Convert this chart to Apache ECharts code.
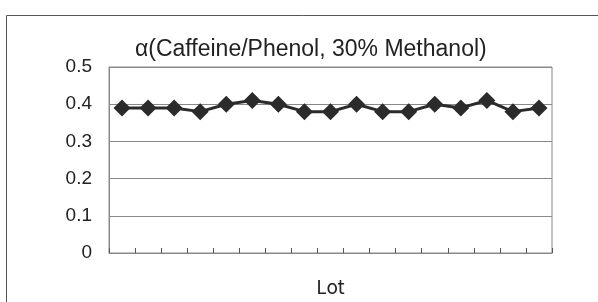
<!DOCTYPE html>
<html>
<head>
<meta charset="utf-8">
<script src="https://cdn.jsdelivr.net/npm/echarts@6/dist/echarts.min.js"></script>
<style>
  html, body { margin: 0; padding: 0; background: #fff; }
  #chart { width: 598px; height: 302px; }
</style>
</head>
<body>
<div id="chart"></div>
<script>
// lots 1..17
var lots = ['1', '2', '3', '4', '5', '6', '7', '8', '9', '10', '11', '12', '13', '14', '15', '16', '17']
var alpha = [0.39, 0.39, 0.39, 0.38, 0.40, 0.41, 0.40, 0.38, 0.38, 0.40, 0.38, 0.38, 0.40, 0.39, 0.41, 0.38, 0.39]
var yTicks = { min: 0, max: 0.5, interval: 0.1 }

var chart = echarts.init(document.getElementById('chart'))
chart.setOption({
  animation: false,
  graphic: [{
    type: 'rect',
    shape: { x: 6.5, y: 15.5, width: 620, height: 320 },
    style: { fill: 'none', stroke: '#555', lineWidth: 1 }
  }],
  title: {
    text: 'α(Caffeine/Phenol, 30% Methanol)',
    left: 130,
    top: 33,
    textStyle: { fontFamily: 'Liberation Sans', fontSize: 23, fontWeight: 'normal', color: '#222' }
  },
  grid: {
    left: 109, right: 46, top: 67, bottom: 49,
    show: true, borderColor: '#888', borderWidth: 1
  },
  xAxis: {
    type: 'category',
    data: lots,
    boundaryGap: true,
    name: 'Lot',
    nameLocation: 'middle',
    nameGap: 24,
    nameTextStyle: { fontFamily: 'Noto Sans CJK JP', fontSize: 19, color: '#222' },
    axisLine: { lineStyle: { color: '#888' } },
    axisTick: { show: true, interval: 0, inside: true, length: 5, lineStyle: { color: '#555' } },
    axisLabel: { show: false, interval: 0 }
  },
  yAxis: {
    type: 'value',
    min: yTicks.min, max: yTicks.max, interval: yTicks.interval,
    axisLine: { show: true, lineStyle: { color: '#888' } },
    axisTick: { show: false },
    axisLabel: { fontFamily: 'Liberation Sans', fontSize: 19, color: '#222', margin: 17 },
    splitLine: { lineStyle: { color: '#888' } }
  },
  series: [{
    type: 'line',
    data: alpha,
    symbol: 'diamond',
    symbolSize: [17, 17],
    lineStyle: { color: '#2b2b2b', width: 3 },
    itemStyle: { color: '#2b2b2b' }
  }]
})
</script>
</body>
</html>
